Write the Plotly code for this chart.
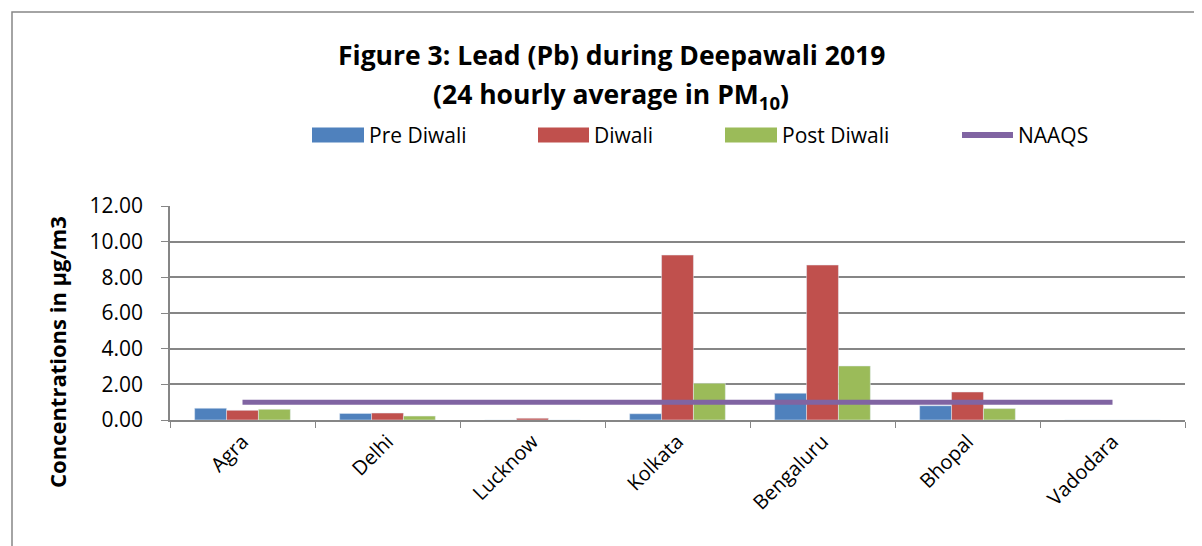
import plotly.graph_objects as go

cities = ["Agra", "Delhi", "Lucknow", "Kolkata", "Bengaluru", "Bhopal", "Vadodara"]
pre_diwali = [0.66, 0.37, 0.0, 0.35, 1.50, 0.80, 0.0]
diwali = [0.54, 0.39, 0.10, 9.25, 8.69, 1.57, 0.0]
post_diwali = [0.60, 0.22, 0.0, 2.06, 3.03, 0.64, 0.0]
naaqs = [1.0, 1.0, 1.0, 1.0, 1.0, 1.0, 1.0]
y_ticks = [0, 2, 4, 6, 8, 10, 12]

C_PRE, C_DIW, C_POST, C_NAAQS = "#4F81BD", "#C0504D", "#9BBB59", "#8064A2"
FONT = "Open Sans"
OFF = 8  # page body margin
W, H = 1202 - OFF, 546 - OFF
L, R, T, B = 170, 1185, 206, 420  # plot area in page pixels

def px(x):
    return (x - L) / (R - L)

def py(y):
    return (B - y) / (B - T)

fig = go.Figure()
fig.add_bar(x=cities, y=pre_diwali, name="Pre Diwali", marker_color=C_PRE)
fig.add_bar(x=cities, y=diwali, name="Diwali", marker_color=C_DIW)
fig.add_bar(x=cities, y=post_diwali, name="Post Diwali", marker_color=C_POST)
fig.add_scatter(x=cities, y=naaqs, name="NAAQS", mode="lines",
                line=dict(color=C_NAAQS, width=5))

shapes = [dict(type="rect", xref="paper", yref="paper",
               x0=px(12), x1=px(1230), y0=py(12), y1=py(580),
               line=dict(color="#878787", width=1.5), fillcolor="rgba(0,0,0,0)", layer="below")]
annotations = []

# legend (manual)
legend_items = [("Pre Diwali", C_PRE, 312, 364, "bar"), ("Diwali", C_DIW, 538, 589, "bar"),
                ("Post Diwali", C_POST, 725, 777, "bar"), ("NAAQS", C_NAAQS, 960, 1015, "line")]
ly = 135
for name, col, x0, x1, kind in legend_items:
    if kind == "bar":
        shapes.append(dict(type="rect", xref="paper", yref="paper",
                           x0=px(x0), x1=px(x1), y0=py(ly - 7.5), y1=py(ly + 7.5),
                           fillcolor=col, line=dict(width=0)))
        tx = x1 + 3
    else:
        shapes.append(dict(type="line", xref="paper", yref="paper",
                           x0=px(x0 + 2), x1=px(x1 - 2), y0=py(ly), y1=py(ly),
                           line=dict(color=col, width=6)))
        tx = x1 + 1
    annotations.append(dict(text=name, xref="paper", yref="paper", x=px(tx), y=py(ly),
                            xanchor="left", yanchor="middle", showarrow=False,
                            font=dict(family=FONT, size=21, color="black")))

annotations.append(dict(text="<b>Figure 3: Lead (Pb) during Deepawali 2019</b>",
                        xref="paper", yref="paper", x=px(611), y=py(55),
                        xanchor="center", yanchor="middle", showarrow=False,
                        font=dict(family=FONT, size=26.5, color="black")))
annotations.append(dict(text="<b>(24 hourly average in PM<sub>10</sub>)</b>",
                        xref="paper", yref="paper", x=px(611), y=py(95),
                        xanchor="center", yanchor="middle", showarrow=False,
                        font=dict(family=FONT, size=26.5, color="black")))
annotations.append(dict(text="<b>Concentrations in µg/m3</b>",
                        xref="paper", yref="paper", x=px(57), y=py(352),
                        xanchor="center", yanchor="middle", showarrow=False, textangle=-90,
                        font=dict(family=FONT, size=22, color="black")))

fig.update_layout(
    width=W, height=H,
    margin=dict(l=L - OFF, r=OFF + W - R, t=T - OFF, b=546 - B),
    paper_bgcolor="white", plot_bgcolor="white",
    barmode="group", bargap=0.34, bargroupgap=0,
    showlegend=False,
    shapes=shapes, annotations=annotations,
    font=dict(family=FONT, size=20, color="black"),
)
fig.update_xaxes(type="category", tickangle=-45, tickson="boundaries",
                 ticks="outside", ticklen=6, tickcolor="#868686",
                 showline=True, linecolor="#868686", linewidth=2,
                 tickfont=dict(family=FONT, size=20, color="black"))
fig.update_yaxes(range=[0, 12], tickvals=y_ticks, tickformat=".2f",
                 ticks="outside", ticklen=7, tickcolor="#868686",
                 ticklabelstandoff=14,
                 showgrid=True, gridcolor="#868686", gridwidth=1.5,
                 showline=True, linecolor="#868686", linewidth=1.5,
                 zeroline=False,
                 tickfont=dict(family=FONT, size=21, color="black"))

fig.write_html("out.html")
